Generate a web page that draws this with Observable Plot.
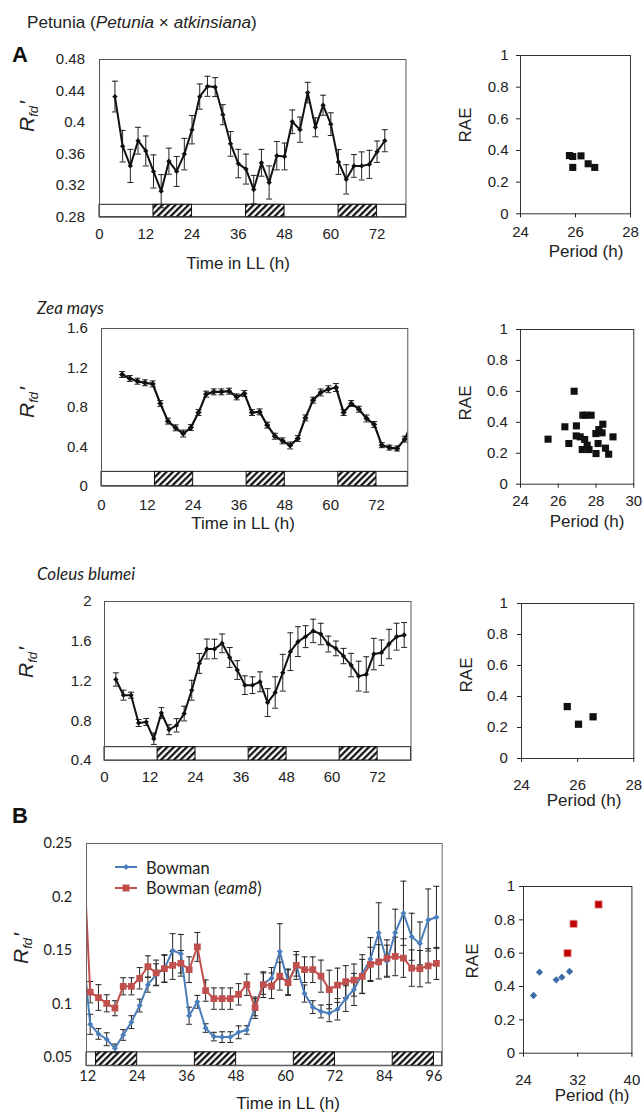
<!DOCTYPE html>
<html><head><meta charset="utf-8">
<script src="https://cdn.jsdelivr.net/npm/d3@7"></script>
<script src="https://cdn.jsdelivr.net/npm/@observablehq/plot@0.6"></script>
<style>
body{margin:0;background:#fff;}
#page{position:relative;width:644px;height:1112px;overflow:hidden;font-family:"Liberation Sans",Arial,sans-serif;color:#222;background:#fff;}
.abs{position:absolute;white-space:nowrap;line-height:1;}
</style></head><body>
<svg width="0" height="0" style="position:absolute"><defs>
<pattern id="hatch" patternUnits="userSpaceOnUse" width="4.6" height="4.6" patternTransform="rotate(45)">
<rect width="4.6" height="4.6" fill="#fff"/><line x1="1.2" y1="0" x2="1.2" y2="4.6" stroke="#000" stroke-width="2.1"/></pattern></defs></svg>
<div id="page"></div>
<script>
// ---------- DATA ----------
// Petunia
const petT = [4,6,8,10,12,14,16,18,20,22,24,26,28,30,32,34,36,38,40,42,44,46,48,50,52,54,56,58,60,62,64,66,68,70,72,74];
const petV = [0.433,0.370,0.345,0.377,0.364,0.338,0.313,0.351,0.338,0.360,0.391,0.433,0.446,0.445,0.410,0.373,0.348,0.341,0.315,0.349,0.324,0.358,0.357,0.401,0.391,0.438,0.394,0.422,0.398,0.350,0.328,0.345,0.345,0.347,0.363,0.377];
const petE = [0.0195,0.020,0.021,0.017,0.019,0.021,0.021,0.0165,0.019,0.020,0.018,0.016,0.0127,0.012,0.0127,0.0157,0.018,0.019,0.018,0.017,0.021,0.018,0.017,0.015,0.016,0.013,0.012,0.0127,0.0144,0.0157,0.0186,0.0144,0.0178,0.0178,0.0136,0.014];
const petPeriod = [25.78,25.9,25.9,26.2,26.46,26.7];
const petRAE = [0.368,0.362,0.293,0.366,0.316,0.293];
// Zea mays
const zeaT = [5.4,7.4,9.4,11.4,13.4,15.4,17.4,19.4,21.4,23.4,25.4,27.4,29.4,31.4,33.4,35.4,37.4,39.4,41.4,43.4,45.4,47.4,49.4,51.4,53.4,55.4,57.4,59.4,61.4,63.4,65.4,67.4,69.4,71.4,73.4,75.4,77.4,79.4,81.4];
const zeaV = [1.133,1.093,1.065,1.049,1.038,0.839,0.660,0.592,0.534,0.595,0.747,0.934,0.957,0.957,0.964,0.906,0.940,0.747,0.754,0.619,0.507,0.460,0.413,0.484,0.693,0.873,0.951,0.984,1.001,0.747,0.839,0.781,0.687,0.626,0.416,0.392,0.382,0.477,0.65];
const zeaE = [0.03,0.03,0.03,0.03,0.03,0.03,0.03,0.03,0.035,0.03,0.03,0.03,0.03,0.03,0.03,0.03,0.03,0.03,0.03,0.03,0.03,0.03,0.035,0.03,0.03,0.03,0.035,0.035,0.04,0.03,0.03,0.03,0.035,0.03,0.025,0.025,0.025,0.03,0.03];
const zeaPeriod = [25.46,26.35,26.56,26.84,26.96,26.95,27.3,27.47,27.74,27.16,27.4,27.27,27.53,27.63,28.0,27.99,28.15,28.36,28.32,28.11,28.5,28.67,28.9];
const zeaRAE = [0.291,0.371,0.263,0.601,0.377,0.312,0.446,0.446,0.446,0.306,0.289,0.224,0.252,0.224,0.198,0.327,0.353,0.388,0.332,0.263,0.233,0.194,0.306];
// Coleus blumei
const colT = [3,5,7,9,11,13,15,17,19,21,23,25,27,29,31,33,35,37,39,41,43,45,47,49,51,53,55,57,59,61,63,65,67,69,71,73,75,77,79];
const colV = [1.215,1.057,1.057,0.777,0.787,0.619,0.878,0.710,0.754,0.872,1.107,1.377,1.522,1.522,1.579,1.437,1.310,1.158,1.158,1.192,0.983,1.084,1.283,1.495,1.596,1.646,1.704,1.673,1.572,1.528,1.451,1.360,1.249,1.266,1.471,1.485,1.572,1.646,1.663];
const colE = [0.067,0.05,0.03,0.035,0.035,0.057,0.054,0.05,0.067,0.074,0.1,0.1,0.1,0.098,0.094,0.1,0.094,0.094,0.084,0.1,0.14,0.158,0.185,0.19,0.15,0.11,0.118,0.108,0.08,0.074,0.077,0.118,0.15,0.178,0.158,0.128,0.148,0.135,0.125];
const colPeriod = [25.63,26.03,26.55];
const colRAE = [0.335,0.221,0.269];
// Barley (B)
const bT = [10.6,12.6,14.6,16.6,18.6,20.6,22.6,24.6,26.6,28.6,30.6,32.6,34.6,36.6,38.6,40.6,42.6,44.6,46.6,48.6,50.6,52.6,54.6,56.6,58.6,60.6,62.6,64.6,66.6,68.6,70.6,72.6,74.6,76.6,78.6,80.6,82.6,84.6,86.6,88.6,90.6,92.6,94.6,96.6];
const bowV = [0.16,0.081,0.072,0.067,0.0585,0.071,0.083,0.0985,0.118,0.1275,0.133,0.150,0.147,0.089,0.102,0.0775,0.0695,0.069,0.069,0.0735,0.0757,0.097,0.119,0.124,0.149,0.1206,0.136,0.1097,0.097,0.093,0.0914,0.095,0.105,0.1136,0.128,0.142,0.1666,0.140,0.1666,0.1848,0.1628,0.1566,0.1785,0.181];
const bowE = [0.01,0.0094,0.005,0.006,0.004,0.005,0.006,0.006,0.007,0.010,0.0125,0.0157,0.018,0.008,0.006,0.004,0.004,0.005,0.005,0.006,0.004,0.008,0.01,0.01,0.026,0.012,0.01,0.008,0.006,0.006,0.008,0.01,0.012,0.015,0.018,0.02,0.028,0.015,0.022,0.030,0.022,0.02,0.029,0.029];
const eamV = [0.27,0.111,0.106,0.1006,0.096,0.1165,0.1165,0.124,0.135,0.129,0.133,0.136,0.138,0.132,0.1533,0.1125,0.105,0.105,0.105,0.109,0.118,0.0965,0.118,0.117,0.126,0.120,0.136,0.132,0.132,0.126,0.1135,0.1175,0.1208,0.1223,0.1257,0.137,0.1394,0.1429,0.1444,0.1429,0.1335,0.133,0.1357,0.1379];
const eamE = [0.01,0.01,0.012,0.008,0.007,0.008,0.008,0.01,0.01,0.012,0.013,0.013,0.012,0.012,0.0135,0.01,0.01,0.01,0.01,0.01,0.01,0.01,0.012,0.012,0.013,0.012,0.013,0.012,0.012,0.015,0.018,0.016,0.015,0.015,0.016,0.016,0.016,0.017,0.018,0.018,0.017,0.017,0.016,0.015];
const bowPeriod = [25.48,26.36,28.83,29.66,30.8];
const bowRAE = [0.346,0.486,0.44,0.456,0.49];
const eamPeriod = [30.5,31.39,35.08];
const eamRAE = [0.60,0.776,0.892];
// light / dark (subjective night) intervals
const darkStartA = [14,38,62], darkEndA = [24,48,72];
const darkStartB = [14,38,62,86], darkEndB = [24,48,72,96];
// tick labels
const ticksLL = [0,12,24,36,48,60,72];
const ticksLLB = [12,24,36,48,60,72,84,96];
const ticksPetY = [0.28,0.32,0.36,0.4,0.44,0.48];
const ticksZeaY = [0,0.4,0.8,1.2,1.6];
const ticksColY = [0.4,0.8,1.2,1.6,2];
const ticksBY = [0.05,0.1,0.15,0.2,0.25];
const ticksRAE = [0,0.2,0.4,0.6,0.8,1];

// ---------- HELPERS ----------
const page = document.getElementById("page");
const fmt = d => String(+d.toFixed(3));
const cap = {draw(ctx, size){ const w = Math.sqrt(size/Math.PI); ctx.moveTo(-w,0); ctx.lineTo(w,0); }};
const rows = (T, V, E) => T.map((t,i)=>({t, v:V[i], e:E[i]}));
const pts = (X, Y) => X.map((x,i)=>({x, y:Y[i]}));

function addPlot(fr, opts, font) {
  const m = {l: 60, r: 12, t: 12, b: 34};
  const svg = Plot.plot({
    width: fr.x2 - fr.x1 + m.l + m.r,
    height: fr.y2 - fr.y1 + m.t + m.b,
    marginLeft: m.l, marginRight: m.r, marginTop: m.t, marginBottom: m.b,
    style: {fontFamily: font.family, fontSize: font.size + "px", color: "#222", background: "transparent", overflow: "visible"},
    ...opts
  });
  svg.style.position = "absolute";
  svg.style.left = (fr.x1 - m.l) + "px";
  svg.style.top = (fr.y1 - m.t) + "px";
  svg.style.maxWidth = "none";
  page.appendChild(svg);
}

function label(html, x, y, o = {}) {
  const d = document.createElement("div");
  d.className = "abs";
  d.innerHTML = html;
  d.style.left = x + "px"; d.style.top = y + "px";
  d.style.fontSize = (o.size || 17) + "px";
  d.style.fontFamily = o.family || '"Liberation Sans", Arial, sans-serif';
  if (o.weight) d.style.fontWeight = o.weight;
  if (o.italic) d.style.fontStyle = "italic";
  d.style.color = o.color || "#222";
  const a = o.anchor || "middle";
  let tr = a === "middle" ? "translate(-50%,-50%)" : "translate(0,-50%)";
  if (o.rotate) tr = "translate(-50%,-50%) rotate(-90deg)";
  d.style.transform = tr;
  page.appendChild(d);
  return d;
}

function lineChart(c) {
  const dark = c.darkS.map((s,i)=>({s, e:c.darkE[i]}));
  const y0 = c.yDomain[0];
  const marks = [
    Plot.rect([c.xDomain], {x1: d=>d[0], x2: d=>d[1], y1: ()=>y0, y2: ()=>c.barTop, fill: "white", stroke: "#222", strokeWidth: 1}),
    Plot.rect(dark, {x1: "s", x2: "e", y1: ()=>y0, y2: ()=>c.barTop, fill: "url(#hatch)", stroke: "#111", strokeWidth: 1})
  ];
  for (const s of c.series) {
    marks.push(Plot.ruleX(s.data, {x: "t", y1: d=>d.v-d.e, y2: d=>d.v+d.e, stroke: "#222", strokeWidth: 1, clip: true}));
    marks.push(Plot.dot(s.data, {x: "t", y: d=>d.v+d.e, symbol: cap, r: c.capR, fill: "none", stroke: "#222", strokeWidth: 1, clip: true}));
    marks.push(Plot.dot(s.data, {x: "t", y: d=>d.v-d.e, symbol: cap, r: c.capR, fill: "none", stroke: "#222", strokeWidth: 1, clip: true}));
  }
  for (const s of c.series) {
    marks.push(Plot.line(s.data, {x: "t", y: "v", stroke: s.color, strokeWidth: s.lw, clip: true}));
    marks.push(Plot.dot(s.data, {x: "t", y: "v", symbol: s.symbol, r: s.r, fill: s.color, stroke: s.edge || "none", strokeWidth: 0.6, clip: true}));
  }
  marks.push(Plot.frame({stroke: c.frameStroke || "#555", strokeWidth: 1}));
  marks.push(Plot.axisY(c.yTicks, {tickSize: 0, tickPadding: c.yPad, tickFormat: fmt, label: null}));
  marks.push(Plot.axisX(c.xTicks, {tickSize: 0, tickPadding: c.xPad, tickFormat: fmt, label: null}));
  addPlot(c.frame, {x: {domain: c.xDomain}, y: {domain: c.yDomain}, marks}, c.font);
}

function scatter(c) {
  const marks = [];
  for (const g of c.groups) {
    marks.push(Plot.dot(g.data, {x: "x", y: "y", symbol: g.symbol, r: g.r, fill: g.fill, stroke: g.stroke || "none", strokeWidth: 0.8}));
  }
  marks.push(Plot.frame({stroke: "#333", strokeWidth: 1}));
  marks.push(Plot.axisY(ticksRAE, {tickSize: 4, tickPadding: c.yPad - 4, tickFormat: fmt, label: null}));
  marks.push(Plot.axisX(c.xTicks, {tickSize: 4, tickPadding: c.xPad - 4, tickFormat: fmt, label: null}));
  addPlot(c.frame, {x: {domain: c.xDomain}, y: {domain: [0,1]}, marks}, c.font);
}

const arial15 = {family: '"Liberation Sans", Arial, sans-serif', size: 15};
const lato14 = {family: 'Lato, "Open Sans", sans-serif', size: 14.5};
const Rfd = '<i>R</i><sub style="font-size:0.62em;vertical-align:-0.3em"><i>fd</i></sub><span style="margin-left:2px">\u2032</span>';

// ---------- PETUNIA ----------
label('Petunia (<i>Petunia</i> \u00d7 <i>atkinsiana</i>)', 27, 23, {anchor: "start", size: 17.2});
label('A', 12, 55, {anchor: "start", size: 22, weight: "bold", color: "#111"});
lineChart({
  frame: {x1: 98.5, y1: 59, x2: 405, y2: 216.7},
  xDomain: [0, 79.5], yDomain: [0.28, 0.48], xTicks: ticksLL, yTicks: ticksPetY,
  barTop: 0.2957, darkS: darkStartA, darkE: darkEndA, capR: 3,
  series: [{data: rows(petT, petV, petE), color: "#111", lw: 2, symbol: "diamond2", r: 2.4}],
  yPad: 14.5, xPad: 11, font: arial15
});
label(Rfd, 28, 116, {rotate: true, size: 21});
label('Time in LL (h)', 238, 263);
scatter({
  frame: {x1: 520, y1: 55, x2: 630, y2: 213.3}, xDomain: [24, 28], xTicks: [24,26,28],
  groups: [{data: pts(petPeriod, petRAE), symbol: "square", r: 4, fill: "#111"}],
  yPad: 12, xPad: 13, font: arial15
});
label('RAE', 465, 125, {rotate: true});
label('Period (h)', 586, 251);

// ---------- ZEA MAYS ----------
label('Zea mays', 37, 307, {anchor: "start", italic: true, size: 17, family: 'Lato, "Open Sans", sans-serif'});
lineChart({
  frame: {x1: 101, y1: 328.3, x2: 407.3, y2: 486},
  xDomain: [0, 80.2], yDomain: [0, 1.6], xTicks: ticksLL, yTicks: ticksZeaY,
  barTop: 0.145, darkS: darkStartA, darkE: darkEndA, capR: 3,
  series: [{data: rows(zeaT, zeaV, zeaE), color: "#111", lw: 2.2, symbol: "diamond2", r: 2.8}],
  yPad: 13.7, xPad: 13.6, font: arial15
});
label(Rfd, 28, 402, {rotate: true, size: 21});
label('Time in LL (h)', 243, 523);
scatter({
  frame: {x1: 520, y1: 329.3, x2: 633.3, y2: 484}, xDomain: [24, 30], xTicks: [24,26,28,30],
  groups: [{data: pts(zeaPeriod, zeaRAE), symbol: "square", r: 4, fill: "#111"}],
  yPad: 12.7, xPad: 11, font: arial15
});
label('RAE', 465, 403, {rotate: true});
label('Period (h)', 587, 521);

// ---------- COLEUS ----------
label('Coleus blumei', 37, 573, {anchor: "start", italic: true, size: 17, family: 'Lato, "Open Sans", sans-serif'});
lineChart({
  frame: {x1: 103.5, y1: 601, x2: 410, y2: 760},
  xDomain: [0, 80.8], yDomain: [0.4, 2], xTicks: ticksLL, yTicks: ticksColY,
  barTop: 0.534, darkS: darkStartA, darkE: darkEndA, capR: 3,
  series: [{data: rows(colT, colV, colE), color: "#111", lw: 2, symbol: "diamond2", r: 2.4}],
  yPad: 12.8, xPad: 11.3, font: arial15
});
label(Rfd, 27, 662, {rotate: true, size: 21});
scatter({
  frame: {x1: 521, y1: 602.7, x2: 633.3, y2: 757.7}, xDomain: [24, 28], xTicks: [24,26,28],
  groups: [{data: pts(colPeriod, colRAE), symbol: "square", r: 4.1, fill: "#111"}],
  yPad: 13.7, xPad: 20.7, font: arial15
});
label('RAE', 466, 675, {rotate: true});
label('Period (h)', 584, 800);

// ---------- B: BARLEY ----------
label('B', 12, 816, {anchor: "start", size: 22, weight: "bold", color: "#111"});
lineChart({
  frame: {x1: 86, y1: 842.7, x2: 441.7, y2: 1065},
  xDomain: [11.7, 98], yDomain: [0.0422, 0.25], xTicks: ticksLLB, yTicks: ticksBY,
  barTop: 0.0547, darkS: darkStartB, darkE: darkEndB, capR: 3,
  frameStroke: "#666",
  series: [
    {data: rows(bT, bowV, bowE), color: "#4a7ebb", lw: 2, symbol: "diamond2", r: 2.7},
    {data: rows(bT, eamV, eamE), color: "#c0504d", lw: 2, symbol: "square", r: 3.8}
  ],
  yPad: 14.3, xPad: 5, font: lato14
});
label(Rfd, 22, 948, {rotate: true, size: 21});
label('Time in LL (h)', 288, 1103);
// legend
const lg = document.createElement("div");
lg.className = "abs";
lg.style.left = "113px"; lg.style.top = "857px";
lg.innerHTML = `<svg width="26" height="42" style="display:block">
<line x1="2" x2="24" y1="10" y2="10" stroke="#4a7ebb" stroke-width="2"/><path d="M13,7 L16,10 L13,13 L10,10 Z" fill="#4a7ebb"/>
<line x1="2" x2="24" y1="31" y2="31" stroke="#c0504d" stroke-width="2"/><rect x="9.5" y="27.5" width="7" height="7" fill="#c0504d"/></svg>`;
page.appendChild(lg);
label('Bowman', 146, 867.5, {anchor: "start", size: 16.5, family: 'Lato, "Open Sans", sans-serif'});
label('Bowman (<i>eam8</i>)', 146, 888, {anchor: "start", size: 16.5, family: 'Lato, "Open Sans", sans-serif'});
scatter({
  frame: {x1: 523.3, y1: 886, x2: 631.7, y2: 1052.7}, xDomain: [24, 40], xTicks: [24,32,40],
  groups: [
    {data: pts(bowPeriod, bowRAE), symbol: "diamond2", r: 3.3, fill: "#3d6ea8"},
    {data: pts(eamPeriod, eamRAE), symbol: "square", r: 4.1, fill: "#c00000", stroke: "#e8a0a0"}
  ],
  yPad: 8.3, xPad: 20.7, font: arial15
});
label('RAE', 472, 961, {rotate: true});
label('Period (h)', 592, 1095);
</script>
</body></html>
